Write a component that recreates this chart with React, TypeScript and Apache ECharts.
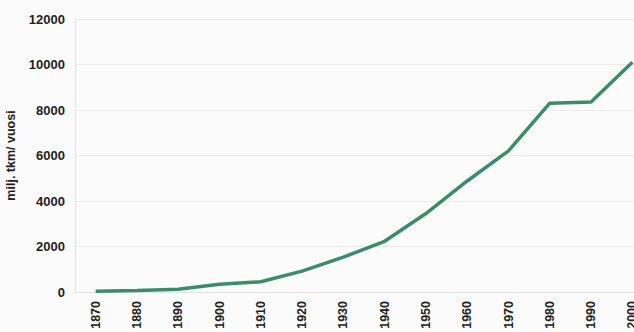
import React, { useEffect, useRef } from "react";
import * as echarts from "echarts";

const years = ["1870", "1880", "1890", "1900", "1910", "1920", "1930", "1940", "1950", "1960", "1970", "1980", "1990", "2000"];
const values = [30, 70, 120, 340, 450, 920, 1530, 2230, 3450, 4880, 6200, 8300, 8350, 10100];
const yTicks = { min: 0, max: 12000, interval: 2000 };
const yName = "milj. tkm/ vuosi";

export default function App() {
  const ref = useRef<HTMLDivElement>(null);
  useEffect(() => {
    const chart = echarts.init(ref.current!, null, { renderer: "svg" });
    chart.setOption({
      animation: false,
      backgroundColor: "#fbfbfb",
      grid: { left: 75, right: -19, top: 19, bottom: 40, containLabel: false, outerBoundsMode: "none" },
      xAxis: {
        type: "category",
        data: years,
        boundaryGap: true,
        axisLine: { show: true, lineStyle: { color: "#e2e2e2", width: 1 } },
        axisTick: { show: false },
        axisLabel: {
          rotate: 90,
          margin: 9,
          color: "#222",
          fontFamily: "Liberation Sans, Arial, sans-serif",
          fontWeight: "bold",
          fontSize: 12.5,
          interval: 0,
        },
        splitLine: { show: false },
      },
      yAxis: {
        type: "value",
        min: yTicks.min,
        max: yTicks.max,
        interval: yTicks.interval,
        name: yName,
        nameLocation: "middle",
        nameGap: 47,
        nameRotate: 90,
        nameTextStyle: {
          color: "#222",
          fontFamily: "Liberation Sans, Arial, sans-serif",
          fontWeight: "bold",
          fontSize: 12.5,
        },
        axisLine: { show: true, lineStyle: { color: "#e2e2e2", width: 1 } },
        axisTick: { show: false },
        axisLabel: {
          margin: 10,
          color: "#222",
          fontFamily: "Liberation Sans, Arial, sans-serif",
          fontWeight: "bold",
          fontSize: 13,
          formatter: (v: number) => String(v),
        },
        splitLine: { show: true, lineStyle: { color: "#ececec", width: 1 } },
      },
      series: [
        {
          type: "line",
          data: values,
          symbol: "none",
          lineStyle: { color: "#3b8c6c", width: 3.5 },
        },
      ],
    });
    return () => chart.dispose();
  }, []);
  return <div ref={ref} style={{ width: 634, height: 332, position: "absolute", left: 0, top: 0 }} />;
}
